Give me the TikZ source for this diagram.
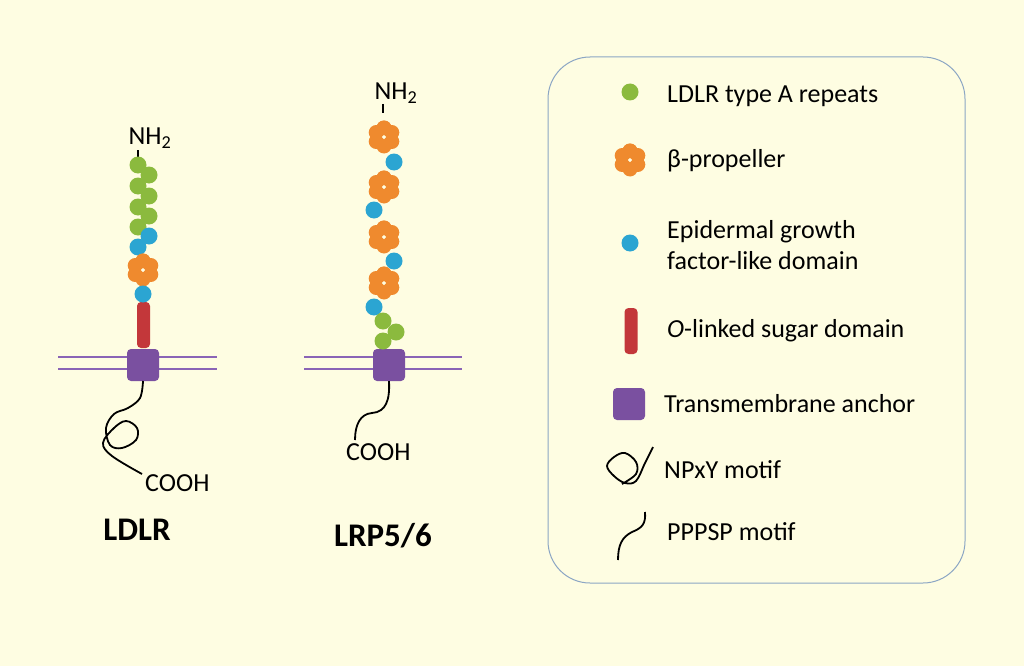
\documentclass[tikz,border=0pt]{standalone}
\usepackage{fontspec}
\setmainfont{Carlito}
\begin{document}
\begin{tikzpicture}[x=1pt,y=-1pt,
  bead/.style={circle,inner sep=0pt,minimum size=17pt,draw=none},
  gb/.style={bead,fill=grn},
  bb/.style={bead,fill=blu},
  petal/.style={circle,inner sep=0pt,minimum size=15pt,fill=org},
  txt/.style={font=\fontsize{26}{31}\selectfont,anchor=west,inner sep=0pt},
  memb/.style={line width=2.8pt,draw=mline},
  tail/.style={line width=1.8pt,black},
  tm/.style={rounded corners=4pt,fill=purp,minimum size=32pt,inner sep=0pt},
  rod/.style={rounded corners=4pt,fill=redc,minimum width=13pt,minimum height=46pt,inner sep=0pt},
  pics/prop/.style={code={
    \foreach \a in {90,150,...,450}{\node[petal] at (\a:9pt) {};}
    \fill[bg] (0,0) circle (1.8pt);}}]
\definecolor{bg}{HTML}{FEFDE2}
\definecolor{grn}{HTML}{8BBA3E}
\definecolor{blu}{HTML}{2BA5D2}
\definecolor{org}{HTML}{EF8A2E}
\definecolor{redc}{HTML}{C3373A}
\definecolor{purp}{HTML}{7A50A0}
\definecolor{mline}{HTML}{8A64B6}
\definecolor{boxc}{HTML}{8CA6C4}
\fill[bg] (0,0) rectangle (1024,666);
\useasboundingbox (0,0) rectangle (1024,666);
% ---------- LDLR ----------
\draw[memb] (58,357) -- (217,357);
\draw[memb] (58,369) -- (217,369);
\node[rod] (rod1) at (143.5,325) {};
\node[tm] (tm1) at (143,365) {};
\node[txt,anchor=center] (nh1) at (150,138) {NH\textsubscript{2}};
\draw[line width=1.4pt] (138,150) -- (138,158);
\node[gb] (g1) at (138,165) {};
\node[gb] (g2) at (149,175) {};
\node[gb] (g3) at (138,186) {};
\node[gb] (g4) at (149,196) {};
\node[gb] (g5) at (138,207) {};
\node[gb] (g6) at (149,216) {};
\node[gb] (g7) at (138,227) {};
\node[bb] (b1) at (149,236) {};
\node[bb] (b2) at (138,247) {};
\pic at (143,270) {prop};
\node[bb] (b3) at (143,294) {};
\node[txt] (c1) at (145,483) {COOH};
\draw[tail] plot[smooth,tension=0.6] coordinates {(143,381) (140,398) (128,408) (114,414) (106,428) (110,445) (122,448) (136,440) (137,428) (126,421) (114,428) (103,443) (112,456) (142,474)};
\node[font=\fontsize{33}{36}\selectfont\bfseries] (l1) at (137,530) {LDLR};
% ---------- LRP5/6 ----------
\draw[memb] (304,357) -- (462,357);
\draw[memb] (304,369) -- (462,369);
\node[tm] (tm2) at (389,365) {};
\node[txt,anchor=center] (nh2) at (396,93) {NH\textsubscript{2}};
\draw[line width=1.4pt] (383,104) -- (383,113);
\pic at (384,137) {prop};
\node[bb] (c2a) at (394,162) {};
\pic at (384,187) {prop};
\node[bb] (c2b) at (374,210) {};
\pic at (384,237) {prop};
\node[bb] (c2c) at (394,261) {};
\pic at (384,283) {prop};
\node[bb] (c2d) at (374,307) {};
\node[gb] (h1) at (383,321) {};
\node[gb] (h2) at (396,332) {};
\node[gb] (h3) at (383,341) {};
\node[txt] (c2) at (346,452) {COOH};
\draw[tail] (tm2.south) .. controls (390,400) and (386,412) .. (372,413) .. controls (360,414) and (355,425) .. (355,440);
\node[font=\fontsize{33}{36}\selectfont\bfseries] (l2) at (383,536) {LRP5/6};
% ---------- legend ----------
\draw[boxc,line width=1pt,rounded corners=42pt] (548,57) rectangle (965,583);
\node[gb] (k1) at (630,92) {};
\node[txt] at (667,96) {LDLR type A repeats};
\pic at (630,160) {prop};
\node[txt] at (667,161) {β-propeller};
\node[bb] (k3) at (630,243) {};
\node[txt,align=left] at (667,245) {Epidermal growth\\factor-like domain};
\node[rod] (k4) at (631,331) {};
\node[txt] at (667,331) {\textit{O}-linked sugar domain};
\node[tm] (k5) at (629,404) {};
\node[txt] at (664,404) {Transmembrane anchor};
\draw[tail] plot[smooth,tension=0.6] coordinates {(653,447) (645,463) (636,481) (625,483) (614,476) (607,466) (614,457) (625,453) (636,462) (636,474) (622,484)};
\node[txt] at (664,470) {NPxY motif};
\draw[tail] (645,512) .. controls (646,524) and (642,528) .. (632,532) .. controls (622,537) and (618,545) .. (618,560);
\node[txt] at (667,532) {PPPSP motif};
\end{tikzpicture}
\end{document}
